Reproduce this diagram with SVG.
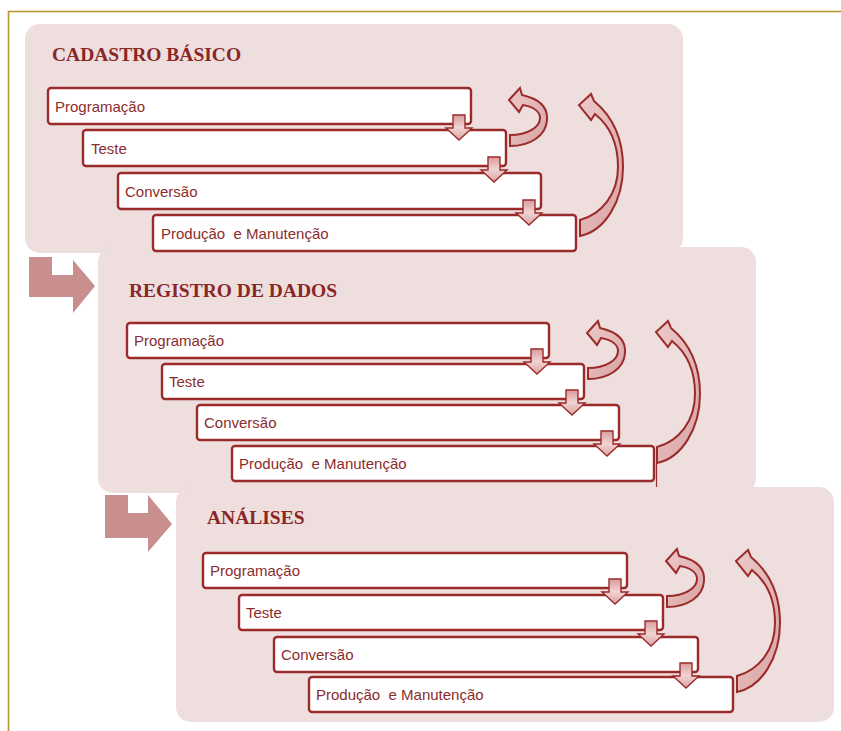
<svg xmlns="http://www.w3.org/2000/svg" width="841" height="731" viewBox="0 0 841 731">
  <style>
    .frame { fill: none; stroke: #b8962e; stroke-width: 1.6; }
    .panel { fill: #eedede; }
    .title { font-family: "Liberation Serif", "Times New Roman", serif; font-weight: bold; font-size: 19.5px; fill: #8b2626; }
    .box { fill: #ffffff; stroke: #9b2a2a; stroke-width: 2.4; }
    .label { font-family: "Liberation Sans", Arial, sans-serif; font-size: 15px; fill: #8b2d2d; white-space: pre; }
    .step { fill: url(#stepFill); stroke: #9b2a2a; stroke-width: 1.4; stroke-linejoin: miter; }
    .loop { fill: url(#loopFill); stroke: #9b2a2a; stroke-width: 2; stroke-linejoin: miter; }
    .chevron { fill: #c98e8e; }
  </style>
  <defs>
    <linearGradient id="stepFill" x1="0" y1="0" x2="0" y2="1">
      <stop offset="0" stop-color="#d99c9c"/>
      <stop offset="0.5" stop-color="#f1d3d3"/>
      <stop offset="1" stop-color="#dda4a4"/>
    </linearGradient>
    <linearGradient id="loopFill" x1="0" y1="0" x2="1" y2="1">
      <stop offset="0" stop-color="#ecc9c9"/>
      <stop offset="1" stop-color="#d9a3a3"/>
    </linearGradient>
    <!-- small block arrow pointing down, origin at top centre -->
    <path id="stepArrow" d="M-6,0 H6 V13 H13 L0,25 L-13,13 H-6 Z"/>
    <!-- short return loop, origin at tail bottom -->
    <path id="shortLoop" d="M0,0 C20,0 36,-10 37,-26 C38,-38 30,-47 12,-51 L10,-58 L-1,-46 L9,-34 L13,-41 C24,-39 30,-34 30,-28 C30,-19 18,-11 0,-11 Z"/>
    <!-- long return loop, origin at tail bottom -->
    <path id="longLoop" d="M0,0 C25,-5 43,-35 43,-69 C43,-98 32,-120 14,-135 L11,-142 L-1,-131 L11,-116 L15,-122 C30,-110 38,-92 38,-69 C38,-42 22,-22 0,-16 Z"/>
  </defs>

  <rect width="841" height="731" fill="#ffffff"/>
  <path class="frame" d="M8.5,731 V11.5 H841"/>

  <!-- stage panels -->
  <rect class="panel" x="25" y="24" width="658" height="229" rx="15"/>
  <rect class="panel" x="98" y="247" width="658" height="246" rx="15"/>
  <rect class="panel" x="176" y="487" width="658" height="235" rx="15"/>

  <g id="stage-cadastro">
    <text class="title" x="52" y="61">CADASTRO BÁSICO</text>
    <g id="cadastro-programacao">
      <rect class="box" x="48" y="88" width="423" height="36" rx="3"/>
      <text class="label" x="55" y="111.5">Programação</text>
    </g>
    <g id="cadastro-teste">
      <rect class="box" x="83" y="130" width="423" height="36" rx="3"/>
      <text class="label" x="91" y="154">Teste</text>
    </g>
    <g id="cadastro-conversao">
      <rect class="box" x="118" y="173" width="423" height="36" rx="3"/>
      <text class="label" x="125" y="196.5">Conversão</text>
    </g>
    <g id="cadastro-producao">
      <rect class="box" x="153" y="215" width="423" height="36" rx="3"/>
      <text class="label" x="161" y="239">Produção  e Manutenção</text>
    </g>
  </g>

  <g id="stage-registro">
    <text class="title" x="129" y="297">REGISTRO DE DADOS</text>
    <g id="registro-programacao">
      <rect class="box" x="127" y="323" width="422" height="35" rx="3"/>
      <text class="label" x="134" y="346">Programação</text>
    </g>
    <g id="registro-teste">
      <rect class="box" x="162" y="364" width="422" height="35" rx="3"/>
      <text class="label" x="169" y="387">Teste</text>
    </g>
    <g id="registro-conversao">
      <rect class="box" x="197" y="405" width="422" height="35" rx="3"/>
      <text class="label" x="204" y="428">Conversão</text>
    </g>
    <g id="registro-producao">
      <rect class="box" x="232" y="446" width="422" height="35" rx="3"/>
      <text class="label" x="239" y="469">Produção  e Manutenção</text>
    </g>
  </g>

  <g id="stage-analises">
    <text class="title" x="207" y="524">ANÁLISES</text>
    <g id="analises-programacao">
      <rect class="box" x="203" y="553" width="424" height="35" rx="3"/>
      <text class="label" x="210" y="576">Programação</text>
    </g>
    <g id="analises-teste">
      <rect class="box" x="239" y="595" width="424" height="35" rx="3"/>
      <text class="label" x="246" y="618">Teste</text>
    </g>
    <g id="analises-conversao">
      <rect class="box" x="274" y="637" width="424" height="35" rx="3"/>
      <text class="label" x="281" y="660">Conversão</text>
    </g>
    <g id="analises-producao">
      <rect class="box" x="309" y="677" width="424" height="35" rx="3"/>
      <text class="label" x="316" y="700">Produção  e Manutenção</text>
    </g>
  </g>

  <g id="connectors">
    <!-- stage-to-stage bent arrows -->
    <path class="chevron" d="M29,257 H52 V275 H73 V260 L95,286 L73,313 V297 H29 Z"/>
    <path class="chevron" d="M105,495 H128 V513 H148 V495 L172,524 L148,552 V538 H105 Z"/>

    <!-- step arrows between phases -->
    <use href="#stepArrow" class="step" x="459" y="115"/>
    <use href="#stepArrow" class="step" x="494" y="157"/>
    <use href="#stepArrow" class="step" x="529" y="200"/>

    <use href="#stepArrow" class="step" x="537" y="349"/>
    <use href="#stepArrow" class="step" x="572" y="390"/>
    <use href="#stepArrow" class="step" x="607" y="431"/>

    <use href="#stepArrow" class="step" x="615" y="579"/>
    <use href="#stepArrow" class="step" x="651" y="621"/>
    <use href="#stepArrow" class="step" x="686" y="663"/>

    <!-- feedback loops -->
    <use href="#shortLoop" class="loop" x="510" y="146"/>
    <use href="#longLoop" class="loop" x="580" y="236"/>

    <use href="#shortLoop" class="loop" x="588" y="379"/>
    <use href="#longLoop" class="loop" x="657" y="463"/>
    <line x1="656.5" y1="463" x2="656.5" y2="487" stroke="#9b2a2a" stroke-width="1.2"/>

    <use href="#shortLoop" class="loop" x="667" y="607"/>
    <use href="#longLoop" class="loop" x="737" y="692"/>
  </g>
</svg>
